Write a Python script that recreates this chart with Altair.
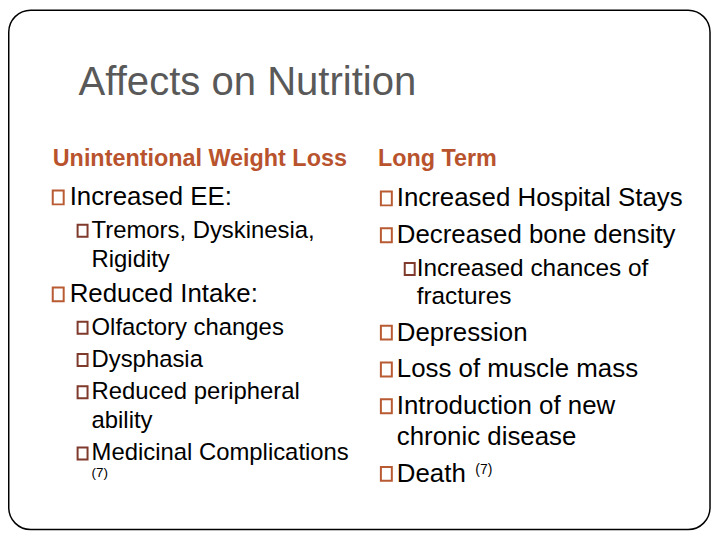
import altair as alt
import pandas as pd

# ---------------- content ----------------
title_text = "Affects on Nutrition"
header_texts = ["Unintentional Weight Loss", "Long Term"]

left_lines = ["Increased EE:", "Tremors, Dyskinesia,", "Rigidity", "Reduced Intake:",
              "Olfactory changes", "Dysphasia", "Reduced peripheral", "ability",
              "Medicinal Complications"]
left_levels = [1, 2, 2, 1, 2, 2, 2, 2, 2]
left_newpara = [True, True, False, True, True, True, True, False, True]
left_note = "(7)"

right_lines = ["Increased Hospital Stays", "Decreased bone density", "Increased chances of",
               "fractures", "Depression", "Loss of muscle mass", "Introduction of new",
               "chronic disease", "Death"]
right_levels = [1, 1, 2, 2, 1, 1, 1, 1, 1]
right_newpara = [True, True, True, False, True, True, True, False, True]
right_note = "(7)"

# ---------------- layout / style ----------------
W, H = 708, 525
OX, OY = 8, 8          # page margin offset
FONT = "Liberation Sans"
TITLE_C = "#595959"
HEAD_C = "#B8532E"
BOX_C = {1: "#B85A32", 2: "#7F3A2C"}
BOX_DIM = {1: (11, 14), 2: (10, 12)}

def column(lines, levels, newpara, first, para_gap, wrap_gap, box_x, text_x, sizes):
    texts, boxes = [], []
    y = first
    for i, (t, lv, npara) in enumerate(zip(lines, levels, newpara)):
        if i > 0:
            y += para_gap[lv] if npara else wrap_gap[lv]
        texts.append(dict(t=t, x=text_x[lv] - OX, y=y - OY, s=sizes[lv], c="#000000"))
        if npara:
            bw, bh = BOX_DIM[lv]
            bx = box_x[lv] + 1
            boxes.append(dict(x0=bx - OX, x1=bx + bw - OX, y0=y - 1 - bh - OY,
                              y1=y - 1 - OY, c=BOX_C[lv]))
    return texts, boxes, y

lt, lb, ly = column(left_lines, left_levels, left_newpara, 205,
                    {1: 36, 2: 32.5}, {1: 30, 2: 29},
                    {1: 52, 2: 77}, {1: 70, 2: 92}, {1: 26, 2: 24})
rt, rb, ry = column(right_lines, right_levels, right_newpara, 206,
                    {1: 37, 2: 33}, {1: 31, 2: 28},
                    {1: 382, 2: 406}, {1: 399, 2: 419}, {1: 26, 2: 24.5})

notes = [dict(t=left_note, x=92 - OX, y=ly + 17 - OY, s=13.5, c="#000000"),
         dict(t=right_note, x=478 - OX, y=ry - 8 - OY, s=14, c="#000000")]

body_df = pd.DataFrame(lt + rt + notes)
box_df = pd.DataFrame(lb + rb)
title_df = pd.DataFrame([dict(t=title_text, x=79 - OX, y=94 - OY)])
head_df = pd.DataFrame([dict(t=header_texts[0], x=53 - OX, y=165 - OY),
                        dict(t=header_texts[1], x=380 - OX, y=165 - OY)])
border_df = pd.DataFrame([dict(x0=0.75, x1=714 - OX, y0=0.75, y1=531 - OY)])

xs = alt.Scale(domain=[0, W], nice=False, zero=False)
ys = alt.Scale(domain=[0, H], nice=False, zero=False, reverse=True)

border = alt.Chart(border_df).mark_rect(
    fillOpacity=0, stroke="#000000", strokeWidth=1.5, cornerRadius=22
).encode(
    x=alt.X("x0:Q", scale=xs, axis=None), x2="x1:Q",
    y=alt.Y("y0:Q", scale=ys, axis=None), y2="y1:Q",
)

title = alt.Chart(title_df).mark_text(
    align="left", baseline="alphabetic", font=FONT, fontSize=40.3, color=TITLE_C
).encode(x=alt.X("x:Q", scale=xs, axis=None), y=alt.Y("y:Q", scale=ys, axis=None), text="t:N")

heads = alt.Chart(head_df).mark_text(
    align="left", baseline="alphabetic", font=FONT, fontSize=23.5, fontWeight="bold", color=HEAD_C
).encode(x=alt.X("x:Q", scale=xs, axis=None), y=alt.Y("y:Q", scale=ys, axis=None), text="t:N")

body = alt.Chart(body_df).mark_text(
    align="left", baseline="alphabetic", font=FONT
).encode(
    x=alt.X("x:Q", scale=xs, axis=None), y=alt.Y("y:Q", scale=ys, axis=None),
    text="t:N", size=alt.Size("s:Q", scale=None), color=alt.Color("c:N", scale=None),
)

boxes = alt.Chart(box_df).mark_rect(fillOpacity=0, strokeWidth=2).encode(
    x=alt.X("x0:Q", scale=xs, axis=None), x2="x1:Q",
    y=alt.Y("y0:Q", scale=ys, axis=None), y2="y1:Q",
    stroke=alt.Stroke("c:N", scale=None),
)

chart = alt.layer(border, title, heads, body, boxes).properties(
    width=W, height=H, padding=0, autosize=alt.AutoSizeParams(type="none"),
    background="#ffffff",
).configure_view(stroke=None)

chart.save("out.html", embed_options={"renderer": "svg", "actions": False})
